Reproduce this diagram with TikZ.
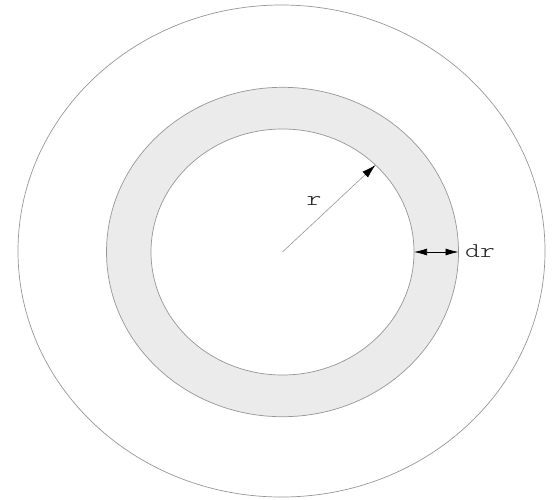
\documentclass[tikz,border=0pt]{standalone}
\usepackage{fontspec}
\newfontfamily\lightmono{Latin Modern Mono Light}
\usetikzlibrary{arrows.meta}
\definecolor{ringfill}{RGB}{235,235,235}
\definecolor{edgegray}{RGB}{150,150,150}
\definecolor{textdark}{RGB}{40,40,40}
\tikzset{
  circ/.style={draw=edgegray, line width=0.7pt},
  lbl/.style={font=\lightmono\fontsize{21}{23}\selectfont, text=textdark, inner sep=0pt}
}
\newcommand{\widetxt}[1]{\scalebox{1.35}[1]{#1}}
\begin{document}
\begin{tikzpicture}[x=1pt,y=-1pt]
\useasboundingbox (0,0) rectangle (553,499);
\coordinate (c) at (282.5,252);
% outer circle
\draw[circ] (281.5,251) ellipse [x radius=263.5, y radius=246];
% ring
\fill[ringfill, even odd rule] (c) ellipse [x radius=176, y radius=164.7] (c) ellipse [x radius=131.5, y radius=123];
\draw[circ] (c) ellipse [x radius=176, y radius=164.7];
\draw[circ] (c) ellipse [x radius=131.5, y radius=123];
% r arrow
\coordinate (rtip) at (375.5,165);
\draw[edgegray, line width=0.6pt, -{Latex[length=14pt,width=8pt,fill=black,color=black]}] (c) -- (rtip);
\node[lbl, anchor=base] (r) at (314,205) {\widetxt{r}};
% dr arrow
\coordinate (dra) at (414,252);
\coordinate (drb) at (458.5,252);
\draw[black, line width=0.7pt, {Latex[length=13pt,width=7pt]}-{Latex[length=13pt,width=7pt]}] (dra) -- (drb);
\node[lbl, anchor=base west] (dr) at (465,257) {\widetxt{dr}};
\end{tikzpicture}
\end{document}
